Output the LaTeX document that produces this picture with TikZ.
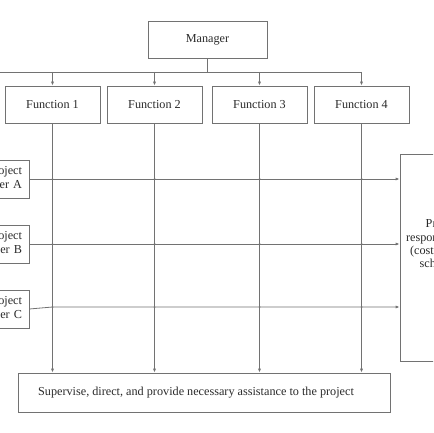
\documentclass[tikz,border=0pt]{standalone}
\usepackage{fontspec}
\setmainfont{Liberation Serif}
\usetikzlibrary{arrows.meta,calc}
\definecolor{ln}{HTML}{727272}
\definecolor{tx}{HTML}{2A2A2A}
\tikzset{
  box/.style={draw=ln,line width=0.8pt,text=tx,font=\fontsize{12.2}{14}\selectfont,align=center,inner sep=0pt},
  con/.style={draw=ln,line width=0.8pt},
  arr/.style={con,-{Latex[length=4pt,width=3.2pt]}},
  jn/.style={circle,fill=ln,inner sep=0pt,minimum size=2pt}
}
\begin{document}
\begin{tikzpicture}[x=1pt,y=-1pt]
\useasboundingbox (0,0) rectangle (433,433);
\clip (0,0) rectangle (433,433);
\node[box,minimum width=119pt,minimum height=37pt] (manager) at (207.5,39.5) {Manager};
\node[box,minimum width=95pt,minimum height=37pt] (f1) at (52.5,104.5) {Function 1};
\node[box,minimum width=95pt,minimum height=37pt] (f2) at (154.5,104.5) {Function 2};
\node[box,minimum width=95pt,minimum height=37pt] (f3) at (259.5,104.5) {Function 3};
\node[box,minimum width=95pt,minimum height=37pt] (f4) at (361.5,104.5) {Function 4};
\node[box,align=right,minimum height=38pt,text width=58pt,inner xsep=7pt] (pa) at (-7,179) {Project\\manager A};
\node[box,align=right,minimum height=38pt,text width=58pt,inner xsep=7pt] (pb) at (-7,244) {Project\\manager B};
\node[box,align=right,minimum height=38pt,text width=58pt,inner xsep=7pt] (pc) at (-7,309) {Project\\manager C};
\node[box,minimum width=90pt,minimum height=207pt] (resp) at (445,257.5) {};
\node[text=tx,font=\fontsize{12.2}{13.3}\selectfont,align=center] (resptext) at (443,245) {Project\\responsibilities\\(cost, quality,\\schedule)};
\node[box,minimum width=372pt,minimum height=39pt] (sup) at (204,392.5) {Supervise, direct, and provide necessary assistance to the project\hspace*{16pt}};
% bus
\coordinate (busL) at (-20,72);
\draw[con] (manager.south) -- (manager.south |- busL);
\draw[con] (busL) -- (busL -| f4.north);
\foreach \f in {f1,f2,f3,f4}{
  \draw[arr] (\f.north |- busL) -- (\f.north);
  \draw[arr] (\f.south) -- (\f.south |- sup.north);
}
% horizontals
\draw[arr] (pa.east) -- (pa.east -| resp.west);
\draw[arr] (pb.east) -- (pb.east -| resp.west);
\coordinate (cbend) at (52.5,307);
\draw[arr] (pc.east) -- (cbend) -- (cbend -| resp.west);
\foreach \f in {f1,f2,f3,f4}{
  \node[jn] at (\f.south |- pa.east) {};
  \node[jn] at (\f.south |- pb.east) {};
  \node[jn] at (\f.south |- cbend) {};
}
\end{tikzpicture}
\end{document}
